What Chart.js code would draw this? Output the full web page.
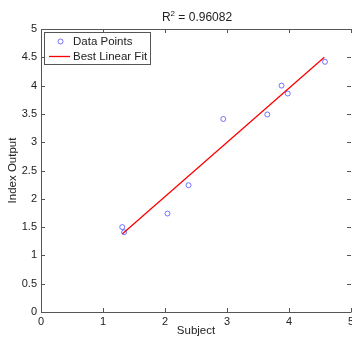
<!DOCTYPE html>
<html>
<head>
<meta charset="utf-8">
<script src="https://cdn.jsdelivr.net/npm/chart.js@4/dist/chart.umd.min.js"></script>
<style>
  html, body { margin: 0; padding: 0; background: #fff; overflow: hidden; }
  #wrap { width: 352px; height: 338px; position: relative; }
</style>
</head>
<body>
<div id="wrap"><canvas id="fitChart"></canvas></div>
<script>
// data
const subjectX = [1.31, 1.34, 2.04, 2.38, 2.94, 3.65, 3.88, 3.98, 4.58];
const indexOut = [1.50, 1.41, 1.74, 2.24, 3.41, 3.49, 4.00, 3.86, 4.42];
const fitX = [1.31, 4.57];
const fitY = [1.38, 4.50];
const titleBase = "R";
const titleSup = "2";
const titleRest = " = 0.96082";
const xLabel = "Subject";
const yLabel = "Index Output";

const FONT = '"Liberation Sans", Arial, Helvetica, sans-serif';
const AXIS = "#555";
const TEXT = "#222";

const fmt = (v) => String(Math.round(v * 10) / 10);

// frame, inward ticks, x tick labels, titles and legend (matlab look)
const matlabDecor = {
  id: "matlabDecor",
  afterDraw(chart) {
    const ctx = chart.ctx;
    const a = chart.chartArea;
    const xs = chart.scales.x, ys = chart.scales.y;
    ctx.save();
    ctx.strokeStyle = AXIS;
    ctx.lineWidth = 1;
    ctx.beginPath();
    ctx.moveTo(Math.round(a.left) + 0.5, Math.round(a.bottom) + 0.5);
    ctx.lineTo(Math.round(a.left) + 0.5, Math.round(a.top) + 0.5);
    ctx.lineTo(Math.round(a.right) + 0.5, Math.round(a.top) + 0.5);
    ctx.moveTo(Math.round(a.left) + 0.5, Math.round(a.bottom) + 0.5);
    ctx.lineTo(Math.round(a.right) + 0.5, Math.round(a.bottom) + 0.5);
    ctx.stroke();

    const tl = 4;
    ctx.beginPath();
    xs.ticks.forEach(t => {
      const px = Math.round(xs.getPixelForValue(t.value)) + 0.5;
      ctx.moveTo(px, a.bottom); ctx.lineTo(px, a.bottom - tl);
      ctx.moveTo(px, a.top); ctx.lineTo(px, a.top + tl);
    });
    ys.ticks.forEach(t => {
      const py = Math.round(ys.getPixelForValue(t.value)) + 0.5;
      ctx.moveTo(a.left, py); ctx.lineTo(a.left + tl, py);
      ctx.moveTo(a.right, py); ctx.lineTo(a.right - tl, py);
    });
    ctx.stroke();

    // x tick labels
    ctx.fillStyle = TEXT;
    ctx.font = "11px " + FONT;
    ctx.textAlign = "center";
    ctx.textBaseline = "top";
    xs.ticks.forEach(t => {
      ctx.fillText(fmt(t.value), xs.getPixelForValue(t.value), a.bottom + 4);
    });

    // title with raised superscript
    ctx.textAlign = "left";
    ctx.textBaseline = "alphabetic";
    ctx.font = "12px " + FONT;
    const wBase = ctx.measureText(titleBase).width;
    const wRest = ctx.measureText(titleRest).width;
    ctx.font = "8px " + FONT;
    const wSup = ctx.measureText(titleSup).width;
    let tx = (a.left + a.right) / 2 + 1 - (wBase + wSup + wRest) / 2;
    ctx.font = "12px " + FONT;
    ctx.fillText(titleBase, tx, 21);
    tx += wBase;
    ctx.font = "8px " + FONT;
    ctx.fillText(titleSup, tx, 16);
    tx += wSup;
    ctx.font = "12px " + FONT;
    ctx.fillText(titleRest, tx, 21);

    // axis titles
    ctx.textAlign = "center";
    ctx.textBaseline = "middle";
    ctx.font = "11.5px " + FONT;
    ctx.fillText(xLabel, (a.left + a.right) / 2, 331);
    ctx.save();
    ctx.translate(13, (a.top + a.bottom) / 2);
    ctx.rotate(-Math.PI / 2);
    ctx.fillText(yLabel, 0, 0);
    ctx.restore();

    // legend box
    const bx = 44.5, by = 32.5, bw = 106, bh = 32;
    ctx.fillStyle = "#fff";
    ctx.fillRect(bx, by, bw, bh);
    ctx.strokeStyle = AXIS;
    ctx.strokeRect(bx, by, bw, bh);
    const ds = chart.data.datasets;
    ctx.textAlign = "left";
    ctx.fillStyle = TEXT;
    ctx.font = "11.5px " + FONT;
    ctx.strokeStyle = ds[0].borderColor;
    ctx.beginPath();
    ctx.arc(60.5, 41.5, 2.5, 0, Math.PI * 2);
    ctx.stroke();
    ctx.fillText(ds[0].label, 73, 42);
    ctx.strokeStyle = ds[1].borderColor;
    ctx.lineWidth = 1.3;
    ctx.beginPath();
    ctx.moveTo(49, 56.5); ctx.lineTo(70, 56.5);
    ctx.stroke();
    ctx.fillText(ds[1].label, 73, 57);
    ctx.restore();
  }
};

const pointData = subjectX.map((x, i) => ({ x: x, y: indexOut[i] }));
const lineData = fitX.map((x, i) => ({ x: x, y: fitY[i] }));

new Chart(document.getElementById("fitChart"), {
  type: "scatter",
  data: {
    datasets: [
      {
        label: "Data Points",
        data: pointData,
        pointStyle: "circle",
        pointRadius: 2.5,
        pointBackgroundColor: "rgba(0,0,0,0)",
        borderColor: "rgba(60,60,255,0.7)",
        pointBorderWidth: 1,
      },
      {
        label: "Best Linear Fit",
        type: "line",
        data: lineData,
        showLine: true,
        borderColor: "#ff0000",
        borderWidth: 1.3,
        pointRadius: 0,
        fill: false,
      },
    ],
  },
  options: {
    responsive: true,
    maintainAspectRatio: false,
    animation: false,
    layout: { autoPadding: false, padding: { top: 29, right: 1, left: 0, bottom: 0 } },
    plugins: {
      legend: { display: false },
      tooltip: { enabled: false },
    },
    scales: {
      x: {
        type: "linear",
        min: 0, max: 5,
        grid: { display: false, drawTicks: false },
        border: { display: false },
        ticks: { stepSize: 1, display: false },
        afterFit: (s) => { s.height = 26; s.paddingLeft = 0; s.paddingRight = 0; },
      },
      y: {
        type: "linear",
        min: 0, max: 5,
        grid: { display: false, drawTicks: false },
        border: { display: false },
        ticks: { stepSize: 0.5, padding: 4, color: TEXT, font: { family: FONT, size: 11 }, callback: (v) => fmt(v) },
        afterFit: (s) => { s.width = 41; s.paddingTop = 0; s.paddingBottom = 0; },
      },
    },
  },
  plugins: [matlabDecor],
});
</script>
</body>
</html>
